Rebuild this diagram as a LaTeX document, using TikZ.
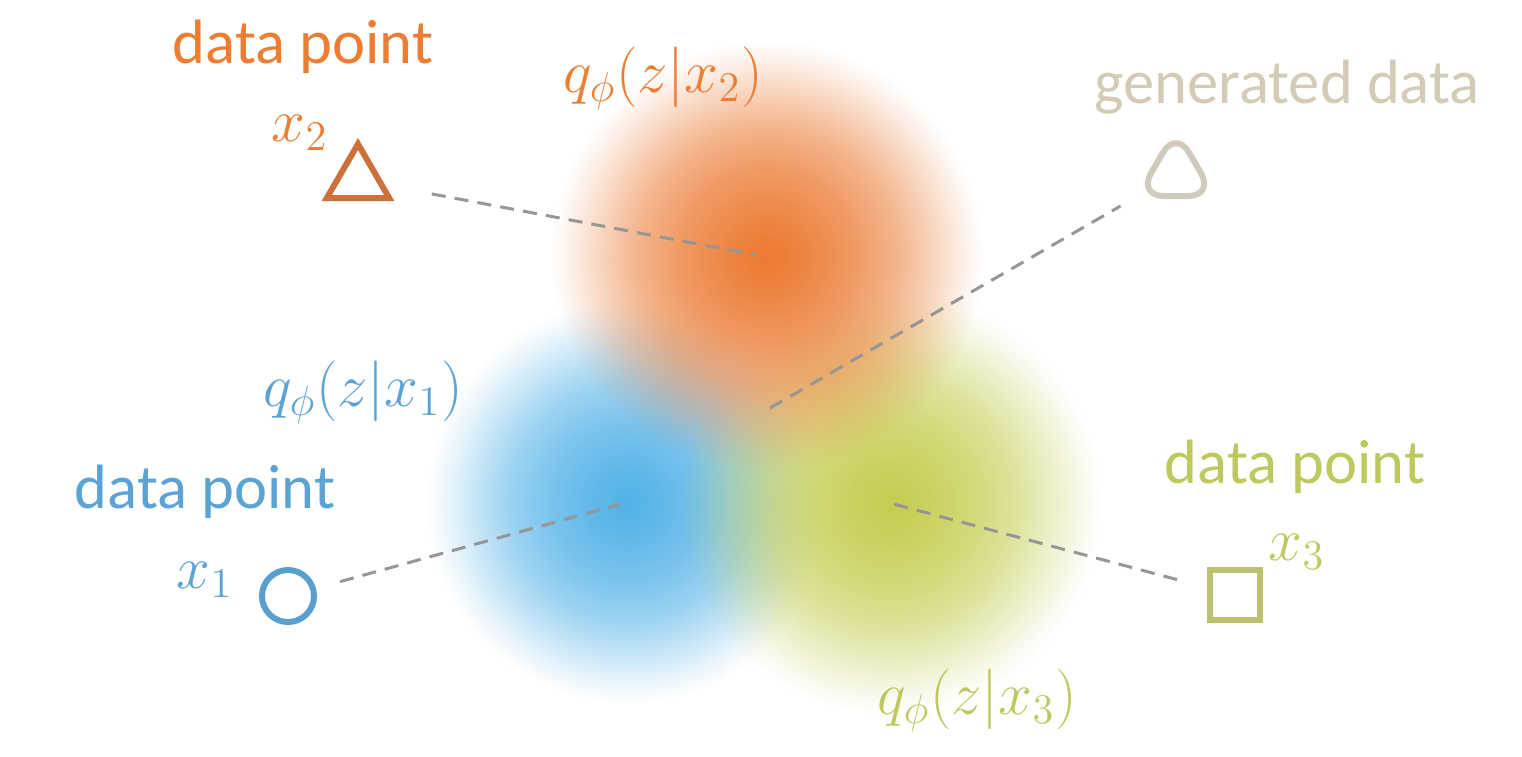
\documentclass[tikz,border=0pt]{standalone}
\usepackage{fontspec}
\setmainfont{Carlito}
\usetikzlibrary{shapes.geometric,fadings}

\definecolor{corange}{RGB}{237,125,49}
\definecolor{ctri}{RGB}{204,112,60}
\definecolor{cblue}{RGB}{90,163,212}
\definecolor{ccirc}{RGB}{88,158,206}
\definecolor{cgreen}{RGB}{190,200,92}
\definecolor{csq}{RGB}{188,192,112}
\definecolor{cbeige}{RGB}{212,203,180}
\definecolor{cgen}{RGB}{208,202,186}
\definecolor{linkgray}{RGB}{150,150,150}
\definecolor{blobo}{RGB}{236,122,50}
\definecolor{blobb}{RGB}{82,178,232}
\definecolor{blobg}{RGB}{198,205,80}

\pgfdeclareradialshading{blobshade}{\pgfpointorigin}{%
  color(0bp)=(white); color(5bp)=(white!90!black); color(10bp)=(white!76!black);
  color(15bp)=(white!56!black); color(19bp)=(white!33!black); color(22.5bp)=(white!12!black);
  color(25bp)=(black); color(50bp)=(black)}
\pgfdeclarefading{blobfade}{\pgfuseshading{blobshade}}

\begin{document}
\begin{tikzpicture}[x=0.01cm,y=-0.01cm,
  lbl/.style={font=\fontsize{17.8}{21}\selectfont, inner sep=0pt, anchor=base},
  mth/.style={font=\fontsize{17.2}{20}\selectfont, inner sep=0pt},
  link/.style={draw=linkgray, line width=0.85pt, dash pattern=on 4pt off 2.6pt},
  pointshape/.style={draw, line width=1.7pt, inner sep=0pt},
  blob/.style={path fading=blobfade}
]
\useasboundingbox (0,0) rectangle (1522,756);
\fill[white] (0,0) rectangle (1522,756);

% blob centres
\coordinate (oc) at (767,257);
\coordinate (bc) at (628,502);
\coordinate (gc) at (890,503);

% blobs
\fill[blobb, blob] (bc) circle[radius=2.0cm];
\fill[blobg, blob] (gc) circle[radius=2.1cm];
\fill[blobo, blob] (oc) circle[radius=2.15cm];

% data points
\node[pointshape, draw=ctri, regular polygon, regular polygon sides=3, minimum size=0.72cm] (tri) at (358,180) {};
\node[pointshape, draw=ccirc, circle, minimum size=0.52cm] (circ) at (288,596) {};
\node[pointshape, draw=csq, rectangle, minimum size=0.5cm] (sq) at (1235,595) {};
\node[pointshape, draw=cgen, regular polygon, regular polygon sides=3, minimum size=0.88cm, rounded corners=0.26cm] (gen) at (1176,174) {};

% dashed links
\coordinate (gend) at (770,408);
\draw[link, shorten <=0.75cm, shorten >=0.12cm] (tri.center) -- (oc);
\draw[link, shorten <=0.54cm, shorten >=0.08cm] (circ.center) -- (bc);
\draw[link, shorten <=0.60cm, shorten >=0.03cm] (sq.center) -- (gc);
\draw[link, shorten >=0.64cm] (gend) -- (gen.center);

% labels
\node[lbl, text=corange] (dp2) at (303,63) {data point};
\node[mth, text=corange] (x2) at (300,133) {$x_2$};
\node[mth, text=corange] (q2) at (663,78) {$q_\phi(z|x_2)$};
\node[lbl, text=cbeige] (gd) at (1287,103) {generated data};
\node[lbl, text=cgreen] (dp3) at (1295,483) {data point};
\node[mth, text=cgreen] (x3) at (1297,552) {$x_3$};
\node[mth, text=cgreen] (q3) at (977,700) {$q_\phi(z|x_3)$};
\node[lbl, text=cblue] (dp1) at (205,508) {data point};
\node[mth, text=cblue] (x1) at (205,580) {$x_1$};
\node[mth, text=cblue] (q1) at (363,392) {$q_\phi(z|x_1)$};
\end{tikzpicture}
\end{document}
